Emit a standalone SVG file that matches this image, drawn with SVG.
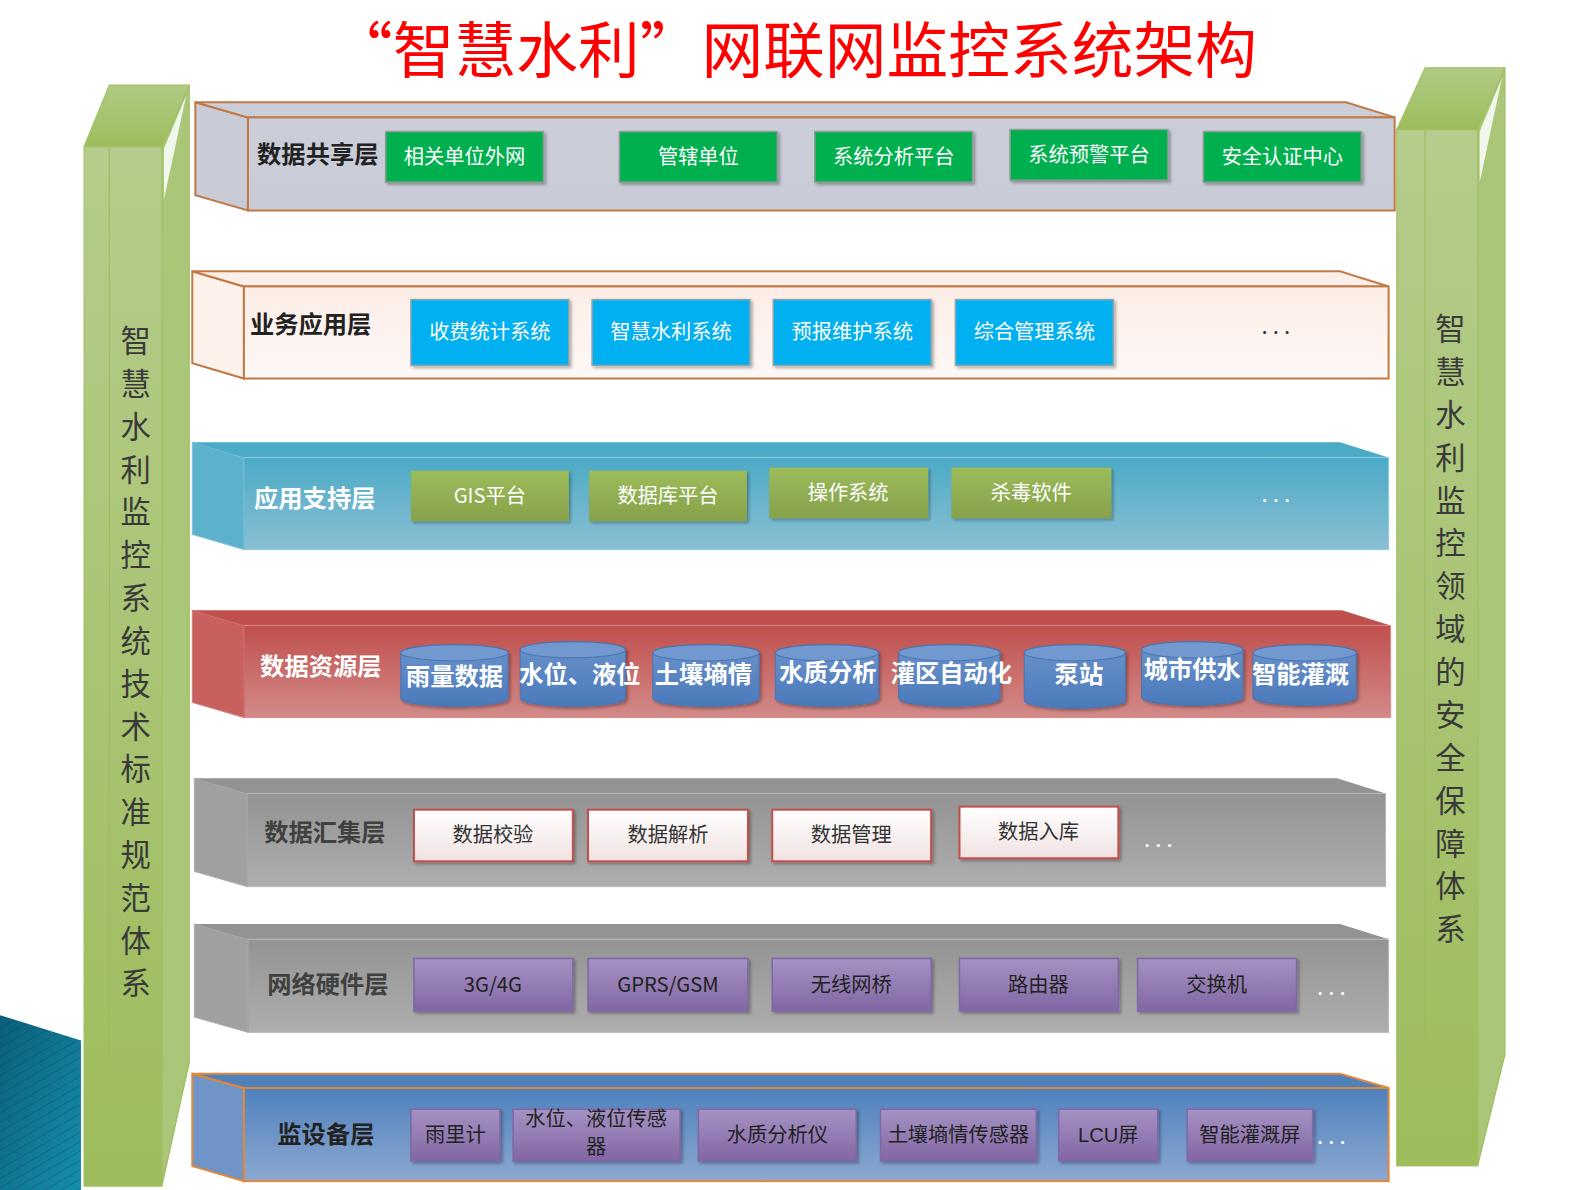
<svg xmlns="http://www.w3.org/2000/svg" width="1587" height="1190" viewBox="0 0 1587 1190">
<defs>
<style>
text{font-family:"Noto Sans CJK SC","Liberation Sans",sans-serif;}
.title{font-size:61px;fill:#FF0000;}
.pil{font-size:30px;fill:#3a3a3a;}
.lbl{font-size:24px;font-weight:700;}
.bt{font-size:20px;text-anchor:middle;}
.cy{font-size:24px;font-weight:700;fill:#fff;text-anchor:middle;}
.dots{font-size:22px;letter-spacing:5px;}
.edge{stroke:#C07A45;stroke-width:2;}
</style>
<linearGradient id="gPil" x1="0" y1="0" x2="0" y2="1"><stop offset="0" stop-color="#B5CC8C"/><stop offset="1" stop-color="#9DBC5B"/></linearGradient>
<linearGradient id="gPilTop" x1="0" y1="0" x2="0" y2="1"><stop offset="0" stop-color="#B0CA84"/><stop offset="1" stop-color="#9DBD5C"/></linearGradient>
<linearGradient id="gL1" x1="0" y1="0" x2="0" y2="1"><stop offset="0" stop-color="#CBCED9"/><stop offset="1" stop-color="#C9CCD7"/></linearGradient>
<linearGradient id="gL2" x1="0" y1="0" x2="0" y2="1"><stop offset="0" stop-color="#FCEDE6"/><stop offset="1" stop-color="#FEF8F6"/></linearGradient>
<linearGradient id="gL3" x1="0" y1="0" x2="0" y2="1"><stop offset="0" stop-color="#4BAAC6"/><stop offset="1" stop-color="#8BBFD3"/></linearGradient>
<linearGradient id="gL4" x1="0" y1="0" x2="0" y2="1"><stop offset="0" stop-color="#C0504D"/><stop offset="1" stop-color="#D28A89"/></linearGradient>
<linearGradient id="gL5" x1="0" y1="0" x2="0" y2="1"><stop offset="0" stop-color="#939393"/><stop offset="1" stop-color="#AEAEAE"/></linearGradient>
<linearGradient id="gL7" x1="0" y1="0" x2="0" y2="1"><stop offset="0" stop-color="#4F81BD"/><stop offset="1" stop-color="#8CA8D0"/></linearGradient>
<linearGradient id="gOl" x1="0" y1="0" x2="0" y2="1"><stop offset="0" stop-color="#9CBC5A"/><stop offset="1" stop-color="#86A14B"/></linearGradient>
<linearGradient id="gPk" x1="0" y1="0" x2="0" y2="1"><stop offset="0" stop-color="#FFFFFF"/><stop offset="1" stop-color="#F0E2E2"/></linearGradient>
<linearGradient id="gPu" x1="0" y1="0" x2="0" y2="1"><stop offset="0" stop-color="#A592C3"/><stop offset="1" stop-color="#8266A4"/></linearGradient>
<linearGradient id="gCy" x1="0" y1="0" x2="0" y2="1"><stop offset="0" stop-color="#6A93CB"/><stop offset="1" stop-color="#4B79BB"/></linearGradient>
<linearGradient id="gTeal" x1="0" y1="0" x2="1" y2="1"><stop offset="0" stop-color="#0B5E78"/><stop offset="1" stop-color="#1590AE"/></linearGradient>
<pattern id="stripes" width="8" height="8" patternUnits="userSpaceOnUse" patternTransform="rotate(60)"><line x1="0" y1="0" x2="0" y2="8" stroke="#063E50" stroke-width="1.2" stroke-opacity="0.5"/></pattern>
<filter id="sh" x="-10%" y="-10%" width="130%" height="140%"><feDropShadow dx="2" dy="2" stdDeviation="1.5" flood-color="#000" flood-opacity="0.3"/></filter>
</defs>
<rect width="1587" height="1190" fill="#FFFFFF"/>
<g id="diagram" transform="scale(1.0121)">

<!-- decoration -->
<g id="deco">
<polygon points="0,1003 80,1028 80,1190 0,1190" fill="url(#gTeal)"/>
<polygon points="0,1003 80,1028 80,1190 0,1190" fill="url(#stripes)"/>
</g>

<text class="title" x="327" y="72" textLength="915" lengthAdjust="spacingAndGlyphs">“智慧水利”网联网监控系统架构</text>

<!-- left pillar -->
<g id="pillar-left">
<polygon points="160,145 187,84 187,1050 160,1172" fill="#A9C679" stroke="#9BBB59" stroke-width="1"/>
<polygon points="162,147 184,94 162,197" fill="#FFFFFF" fill-opacity="0.85"/>
<polygon points="83,145 108,84 187,84 160,145" fill="url(#gPilTop)" stroke="#A2C062" stroke-width="1"/>
<rect x="83" y="145" width="77" height="1027" fill="url(#gPil)" stroke="#A2C062" stroke-width="1"/>
<line x1="108" y1="145" x2="108" y2="1050" stroke="#9DBC5C" stroke-width="1"/>
<text class="pil" text-anchor="middle">
<tspan x="134" y="348">智</tspan><tspan x="134" dy="42.3">慧</tspan><tspan x="134" dy="42.3">水</tspan><tspan x="134" dy="42.3">利</tspan><tspan x="134" dy="42.3">监</tspan><tspan x="134" dy="42.3">控</tspan><tspan x="134" dy="42.3">系</tspan><tspan x="134" dy="42.3">统</tspan><tspan x="134" dy="42.3">技</tspan><tspan x="134" dy="42.3">术</tspan><tspan x="134" dy="42.3">标</tspan><tspan x="134" dy="42.3">准</tspan><tspan x="134" dy="42.3">规</tspan><tspan x="134" dy="42.3">范</tspan><tspan x="134" dy="42.3">体</tspan><tspan x="134" dy="42.3">系</tspan>
</text>
</g>

<!-- right pillar -->
<g id="pillar-right">
<polygon points="1460,128 1487,67 1487,1042 1460,1152" fill="#A9C679" stroke="#9BBB59" stroke-width="1"/>
<polygon points="1462,130 1484,77 1462,180" fill="#FFFFFF" fill-opacity="0.85"/>
<polygon points="1380,128 1408,67 1487,67 1460,128" fill="url(#gPilTop)" stroke="#A2C062" stroke-width="1"/>
<rect x="1380" y="128" width="80" height="1024" fill="url(#gPil)" stroke="#A2C062" stroke-width="1"/>
<line x1="1408" y1="128" x2="1408" y2="1040" stroke="#9DBC5C" stroke-width="1"/>
<text class="pil" text-anchor="middle">
<tspan x="1433" y="336">智</tspan><tspan x="1433" dy="42.36">慧</tspan><tspan x="1433" dy="42.36">水</tspan><tspan x="1433" dy="42.36">利</tspan><tspan x="1433" dy="42.36">监</tspan><tspan x="1433" dy="42.36">控</tspan><tspan x="1433" dy="42.36">领</tspan><tspan x="1433" dy="42.36">域</tspan><tspan x="1433" dy="42.36">的</tspan><tspan x="1433" dy="42.36">安</tspan><tspan x="1433" dy="42.36">全</tspan><tspan x="1433" dy="42.36">保</tspan><tspan x="1433" dy="42.36">障</tspan><tspan x="1433" dy="42.36">体</tspan><tspan x="1433" dy="42.36">系</tspan>
</text>
</g>

<!-- Layer 1 -->
<g id="layer-share">
<polygon points="193,101 245,116 245,208 193,193" fill="#C9CCD7" class="edge"/>
<polygon points="193,101 1330,101 1378,116 245,116" fill="#CBCED9" class="edge"/>
<rect x="245" y="116" width="1133" height="92" fill="url(#gL1)" class="edge"/>
<text class="lbl" x="254" y="161" fill="#222">数据共享层</text>
<g filter="url(#sh)" fill="#00B050" stroke="#8E9A94" stroke-width="1.5">
<rect x="381" y="130" width="156" height="50"/>
<rect x="612" y="130" width="156" height="50"/>
<rect x="805" y="130" width="156" height="50"/>
<rect x="998" y="128" width="156" height="50"/>
<rect x="1189" y="130" width="156" height="50"/>
</g>
<g fill="#FFFFFF">
<text class="bt" x="459" y="162">相关单位外网</text>
<text class="bt" x="690" y="162">管辖单位</text>
<text class="bt" x="883" y="162">系统分析平台</text>
<text class="bt" x="1076" y="160">系统预警平台</text>
<text class="bt" x="1267" y="162">安全认证中心</text>
</g>
</g>

<!-- Layer 2 -->
<g id="layer-business">
<polygon points="190,268 241,283 241,374 190,359" fill="#FDF1EC" class="edge"/>
<polygon points="190,268 1324,268 1372,283 241,283" fill="#FCEEE8" class="edge"/>
<rect x="241" y="283" width="1131" height="91" fill="url(#gL2)" class="edge"/>
<text class="lbl" x="247" y="329" fill="#222">业务应用层</text>
<g filter="url(#sh)" fill="#00B0F0" stroke="#8FA3AE" stroke-width="1.5">
<rect x="406" y="296" width="156" height="65"/>
<rect x="585" y="296" width="156" height="65"/>
<rect x="764" y="296" width="156" height="65"/>
<rect x="944" y="296" width="156" height="65"/>
</g>
<g fill="#FFFFFF">
<text class="bt" x="484" y="335">收费统计系统</text>
<text class="bt" x="663" y="335">智慧水利系统</text>
<text class="bt" x="842" y="335">预报维护系统</text>
<text class="bt" x="1022" y="335">综合管理系统</text>
</g>
<text class="dots" x="1263" y="330" text-anchor="middle" fill="#333">...</text>
</g>

<!-- Layer 3 -->
<g id="layer-support">
<polygon points="190,437 241,452 241,543 190,528" fill="#5CB2CB" stroke="#7FC2D8" stroke-width="1"/>
<polygon points="190,437 1324,437 1372,452 241,452" fill="#4BAAC6"/>
<rect x="241" y="452" width="1131" height="91" fill="url(#gL3)" stroke="#8FCBE0" stroke-width="1"/>
<line x1="241" y1="452" x2="241" y2="543" stroke="#5FB3CC" stroke-width="1"/>
<text class="lbl" x="251" y="501" fill="#FFFFFF">应用支持层</text>
<g filter="url(#sh)" fill="url(#gOl)">
<rect x="406" y="465" width="156" height="50"/>
<rect x="582" y="465" width="156" height="50"/>
<rect x="760" y="462" width="157" height="50"/>
<rect x="940" y="462" width="158" height="50"/>
</g>
<g fill="#FFFFFF">
<text class="bt" x="484" y="497">GIS平台</text>
<text class="bt" x="660" y="497">数据库平台</text>
<text class="bt" x="838" y="494">操作系统</text>
<text class="bt" x="1019" y="494">杀毒软件</text>
</g>
<text class="dots" x="1263" y="496" text-anchor="middle" fill="#FFFFFF">...</text>
</g>

<!-- Layer 4 -->
<g id="layer-resource">
<polygon points="190,603 241,618 241,709 190,694" fill="#C8605E" stroke="#D27F7E" stroke-width="1"/>
<polygon points="190,603 1326,603 1374,618 241,618" fill="#C0504D"/>
<rect x="241" y="618" width="1133" height="91" fill="url(#gL4)" stroke="#D58A89" stroke-width="1"/>
<line x1="241" y1="618" x2="241" y2="709" stroke="#C45A58" stroke-width="1"/>
<text class="lbl" x="257" y="667" fill="#FFFFFF">数据资源层</text>
<g fill="url(#gCy)" stroke="#4A74B0" stroke-width="1" filter="url(#sh)">
<path d="M396,645 A53,8 0 0 1 502,645 V690 A53,8 0 0 1 396,690 Z"/>
<path d="M514,642 A52,8 0 0 1 618,642 V690 A52,8 0 0 1 514,690 Z"/>
<path d="M645,645 A52.5,8 0 0 1 750,645 V690 A52.5,8 0 0 1 645,690 Z"/>
<path d="M766,645 A51,8 0 0 1 868,645 V690 A51,8 0 0 1 766,690 Z"/>
<path d="M888,645 A50,8 0 0 1 988,645 V690 A50,8 0 0 1 888,690 Z"/>
<path d="M1012,645 A50,8 0 0 1 1112,645 V692 A50,8 0 0 1 1012,692 Z"/>
<path d="M1128,642 A50,8 0 0 1 1228,642 V689 A50,8 0 0 1 1128,689 Z"/>
<path d="M1238,645 A51,8 0 0 1 1340,645 V689 A51,8 0 0 1 1238,689 Z"/>
</g>
<g fill="#7299CF" stroke="#4A74B0" stroke-width="1">
<ellipse cx="449" cy="645" rx="53" ry="8"/>
<ellipse cx="566" cy="642" rx="52" ry="8"/>
<ellipse cx="697.5" cy="645" rx="52.5" ry="8"/>
<ellipse cx="817" cy="645" rx="51" ry="8"/>
<ellipse cx="938" cy="645" rx="50" ry="8"/>
<ellipse cx="1062" cy="645" rx="50" ry="8"/>
<ellipse cx="1178" cy="642" rx="50" ry="8"/>
<ellipse cx="1289" cy="645" rx="51" ry="8"/>
</g>
<text class="cy" x="449" y="677">雨量数据</text>
<text class="cy" x="573" y="675">水位、液位</text>
<text class="cy" x="695" y="675">土壤墒情</text>
<text class="cy" x="818" y="673">水质分析</text>
<text class="cy" x="940" y="674">灌区自动化</text>
<text class="cy" x="1066" y="675">泵站</text>
<text class="cy" x="1178" y="670">城市供水</text>
<text class="cy" x="1285" y="675">智能灌溉</text>
</g>

<!-- Layer 5 -->
<g id="layer-collect">
<polygon points="192,769 244,784 244,876 192,861" fill="#A0A0A0" stroke="#B0B0B0" stroke-width="1"/>
<polygon points="192,769 1321,769 1369,784 244,784" fill="#939393"/>
<rect x="244" y="784" width="1125" height="92" fill="url(#gL5)" stroke="#B8B8B8" stroke-width="1"/>
<line x1="244" y1="784" x2="244" y2="876" stroke="#9C9C9C" stroke-width="1"/>
<text class="lbl" x="261" y="831" fill="#404040">数据汇集层</text>
<g filter="url(#sh)" fill="url(#gPk)" stroke="#C0504D" stroke-width="2">
<rect x="409" y="800" width="157" height="51"/>
<rect x="581" y="800" width="158" height="51"/>
<rect x="763" y="800" width="157" height="51"/>
<rect x="948" y="797" width="157" height="51"/>
</g>
<g fill="#333333">
<text class="bt" x="487" y="832">数据校验</text>
<text class="bt" x="660" y="832">数据解析</text>
<text class="bt" x="841" y="832">数据管理</text>
<text class="bt" x="1026" y="829">数据入库</text>
</g>
<text class="dots" x="1147" y="837" text-anchor="middle" fill="#FFFFFF">...</text>
</g>

<!-- Layer 6 -->
<g id="layer-network">
<polygon points="192,913 245,928 245,1020 192,1005" fill="#A0A0A0" stroke="#B0B0B0" stroke-width="1"/>
<polygon points="192,913 1324,913 1372,928 245,928" fill="#939393"/>
<rect x="245" y="928" width="1127" height="92" fill="url(#gL5)" stroke="#B8B8B8" stroke-width="1"/>
<line x1="245" y1="928" x2="245" y2="1020" stroke="#9C9C9C" stroke-width="1"/>
<text class="lbl" x="264" y="981" fill="#404040">网络硬件层</text>
<g filter="url(#sh)" fill="url(#gPu)" stroke="#7E68A8" stroke-width="1.5">
<rect x="409" y="947" width="157" height="52"/>
<rect x="581" y="947" width="158" height="52"/>
<rect x="763" y="947" width="157" height="52"/>
<rect x="948" y="947" width="157" height="52"/>
<rect x="1124" y="947" width="157" height="52"/>
</g>
<g fill="#222222">
<text class="bt" x="487" y="980" font-family="Liberation Sans">3G/4G</text>
<text class="bt" x="660" y="980" font-family="Liberation Sans">GPRS/GSM</text>
<text class="bt" x="841" y="980">无线网桥</text>
<text class="bt" x="1026" y="980">路由器</text>
<text class="bt" x="1202" y="980">交换机</text>
</g>
<text class="dots" x="1318" y="983" text-anchor="middle" fill="#FFFFFF">...</text>
</g>

<!-- Layer 7 -->
<g id="layer-device">
<polygon points="190,1061 241,1075 241,1167 190,1152" fill="#6F94C8" stroke="#E0883A" stroke-width="2"/>
<polygon points="190,1061 1324,1061 1372,1075 241,1075" fill="#4F81BD" stroke="#E0883A" stroke-width="2"/>
<rect x="241" y="1075" width="1131" height="92" fill="url(#gL7)" stroke="#E0883A" stroke-width="2"/>
<text class="lbl" x="274" y="1129" fill="#222">监设备层</text>
<g filter="url(#sh)" fill="url(#gPu)" stroke="#7E68A8" stroke-width="1.5">
<rect x="406" y="1096" width="88" height="51"/>
<rect x="507" y="1096" width="165" height="51"/>
<rect x="690" y="1096" width="156" height="51"/>
<rect x="870" y="1096" width="154" height="51"/>
<rect x="1046" y="1096" width="98" height="51"/>
<rect x="1173" y="1096" width="124" height="51"/>
</g>
<g fill="#222222">
<text class="bt" x="450" y="1128">雨里计</text>
<text class="bt" x="589" y="1113" font-size="18">水位、液位传感</text>
<text class="bt" x="589" y="1140" font-size="18">器</text>
<text class="bt" x="768" y="1128">水质分析仪</text>
<text class="bt" x="947" y="1128">土壤墒情传感器</text>
<text class="bt" x="1095" y="1128"><tspan font-family="Liberation Sans">LCU</tspan>屏</text>
<text class="bt" x="1235" y="1128">智能灌溉屏</text>
</g>
<text class="dots" x="1318" y="1130" text-anchor="middle" fill="#FFFFFF">...</text>
</g>
</g>
</svg>
